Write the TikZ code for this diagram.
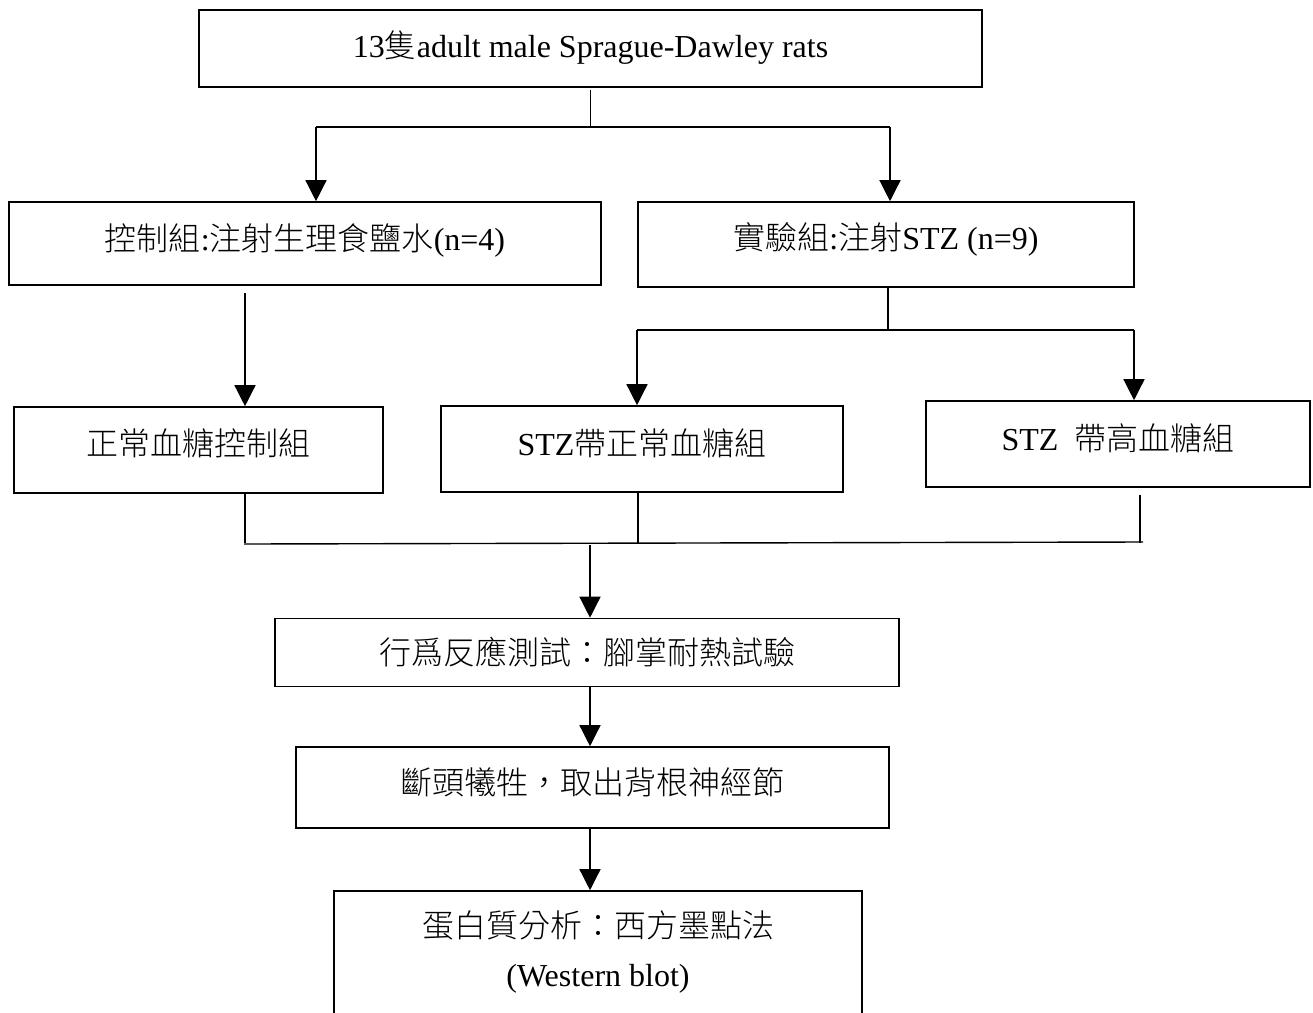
\documentclass[tikz,border=0pt]{standalone}
\usepackage{fontspec}
\setmainfont{Liberation Serif}
\newfontfamily\cjk{Noto Sans CJK TC Light}
\usetikzlibrary{arrows.meta}
\newcommand\zh[1]{{\cjk #1}}
\begin{document}
\begin{tikzpicture}[x=1pt,y=-1pt,
  box/.style={draw, line width=1.6pt, inner sep=0pt, font=\fontsize{32}{38}\selectfont, text height=23pt, text depth=0pt},
  up/.style={text depth=#1},
  txt/.style={inner sep=0pt, align=center, font=\fontsize{32}{49}\selectfont},
  conn/.style={line width=1.4pt},
  arr/.style={conn, -{Triangle[width=21pt,length=21pt]}}]
\useasboundingbox (0,0) rectangle (1313,1012);
\fill[white] (0,0) rectangle (1313,1012);

% boxes
\node[box, up=6pt, minimum width=783pt, minimum height=77pt] (top) at (590.5,48.5) {13\zh{隻}adult male Sprague-Dawley rats};
\node[box, up=10pt, minimum width=592pt, minimum height=83pt] (ctrl) at (305,243.5) {\zh{控制組}:\zh{注射生理食鹽水}(n=4)};
\node[box, up=13pt, minimum width=496pt, minimum height=85pt] (exp) at (886,244.5) {\zh{實驗組}:\zh{注射}STZ (n=9)};
\node[box, up=13pt, minimum width=369pt, minimum height=86pt] (nc) at (198.5,450) {\zh{正常血糖控制組}};
\node[box, up=11pt, minimum width=402pt, minimum height=86pt] (stzn) at (642,449) {STZ\zh{帶正常血糖組}};
\node[box, up=11pt, minimum width=384pt, minimum height=86pt] (stzh) at (1118,444) {STZ\ \ \zh{帶高血糖組}};
\node[box, up=0pt, minimum width=624pt, minimum height=68pt] (beh) at (587,652.5) {\zh{行爲反應測試：腳掌耐熱試驗}};
\node[box, up=10pt, minimum width=593pt, minimum height=81pt] (sac) at (592.5,787.5) {\zh{斷頭犧牲，取出背根神經節}};
\node[box, minimum width=528pt, minimum height=150pt] (wb) at (598,966) {};
\node[txt] (wbtext) at (598,952) {\zh{蛋白質分析：西方墨點法}\\(Western blot)};

% top split
\coordinate (j1) at (590.5,127);
\coordinate (j1l) at (316,127);
\coordinate (j1r) at (890,127);
\draw[conn] (top.south -| j1) ++(0,2) -- (j1);
\draw[conn] (j1l) -- (j1r);
\draw[arr] (j1l) -- (j1l |- ctrl.north);
\draw[arr] (j1r) -- (j1r |- exp.north);

% control
\coordinate (c1) at (245,293);
\draw[arr] (c1) -- (c1 |- nc.north);

% experimental split
\coordinate (j2) at (888,330);
\coordinate (j2l) at (637,330);
\coordinate (j2r) at (1134,330);
\draw[conn] (exp.south -| j2) -- (j2);
\draw[conn] (j2l) -- (j2r);
\draw[arr] (j2l) -- (j2l |- stzn.north);
\draw[arr] (j2r) -- (j2r |- stzh.north);

% merge
\coordinate (m1) at (245,543);
\coordinate (m2) at (638,543);
\coordinate (m3) at (1140,543);
\coordinate (mj) at (590,543);
\draw[conn] (nc.south -| m1) -- (m1);
\draw[conn] (stzn.south -| m2) -- (m2);
\draw[conn] (stzh.south -| m3) ++(0,7) -- (m3);
\draw[conn] (m1) ++(-1,1) -- ([xshift=3pt,yshift=1pt]m3);
\draw[arr] (mj) ++(0,2) -- (mj |- beh.north);

% chain
\coordinate (k1) at (590,686.5);
\draw[arr] (k1) -- (k1 |- sac.north);
\coordinate (k2) at (590,828);
\draw[arr] (k2) -- (k2 |- wb.north);
\end{tikzpicture}
\end{document}
